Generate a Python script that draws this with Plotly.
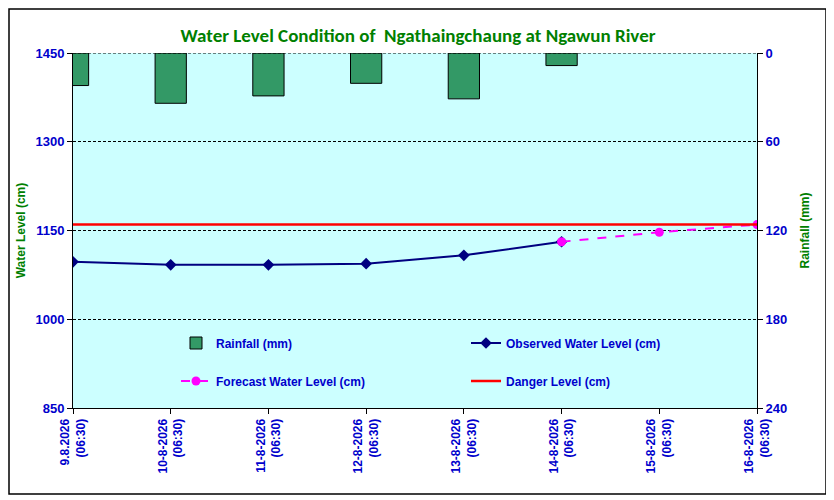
import plotly.graph_objects as go

categories = ["9.8.2026<br>(06:30)", "10-8-2026<br>(06:30)", "11-8-2026<br>(06:30)",
              "12-8-2026<br>(06:30)", "13-8-2026<br>(06:30)", "14-8-2026<br>(06:30)",
              "15-8-2026<br>(06:30)", "16-8-2026<br>(06:30)"]
rainfall_mm = [22, 34, 29, 20.5, 31, 8.5, None, None]
observed_cm = [1097, 1092, 1092, 1094, 1108, 1131]
forecast_idx = [5, 6, 7]
forecast_cm = [1131, 1147, 1160]
danger_cm = 1160
level_range = [850, 1450]

xpos = list(range(len(categories)))
BLUE = "#0000CC"
GREEN = "#008000"
TICKFONT = dict(family="Liberation Sans Narrow, Liberation Sans, Arial", size=13, color=BLUE, weight="bold")
LEGFONT = dict(family="Liberation Sans, Arial", size=12, color=BLUE, weight="bold")

fig = go.Figure()
fig.add_trace(go.Bar(x=xpos, y=rainfall_mm, yaxis="y2", width=0.32, name="Rainfall (mm)",
                     marker=dict(color="#339966", line=dict(color="black", width=1)),
                     legend="legend"))
fig.add_trace(go.Scatter(x=xpos[:len(observed_cm)], y=observed_cm, mode="lines+markers",
                         name="Observed Water Level (cm)",
                         line=dict(color="#000080", width=2),
                         marker=dict(symbol="diamond", size=9, color="#000080"),
                         legend="legend2"))
fig.add_trace(go.Scatter(x=forecast_idx, y=forecast_cm, mode="lines+markers",
                         name="Forecast Water Level (cm)",
                         line=dict(color="#FF00FF", width=2, dash="dash"),
                         marker=dict(symbol="circle", size=9, color="#FF00FF"),
                         legend="legend3"))
fig.add_trace(go.Scatter(x=[xpos[0], xpos[-1]], y=[danger_cm, danger_cm], mode="lines",
                         name="Danger Level (cm)",
                         line=dict(color="#FF0000", width=2.5),
                         legend="legend4"))

# page pixel targets; page is offset by 8px body margin
OFF = 8
FW, FH = 820, 488
L, R, T, B = 73 - OFF, 757 - OFF, 53 - OFF, 408 - OFF
W, H = R - L, B - T
def px(xp): return (xp - OFF - L) / W
def py(yp): return (B - (yp - OFF)) / H

leg = dict(bgcolor="rgba(0,0,0,0)", font=LEGFONT, xanchor="left", yanchor="middle")
fig.update_layout(
    width=FW, height=FH,
    margin=dict(l=L, r=FW - R, t=T, b=FH - B, autoexpand=False),
    paper_bgcolor="white", plot_bgcolor="#CCFFFF",
    title=dict(text="Water Level Condition of  Ngathaingchaung at Ngawun River",
               x=0.5, xanchor="center", y=1 - (35 - OFF) / FH, yanchor="middle", automargin=False,
               font=dict(family="Carlito, Liberation Sans Narrow, Arial", size=19, color=GREEN, weight="bold")),
    showlegend=True,
    legend=dict(x=px(176), y=py(343), **leg),
    legend2=dict(x=px(466), y=py(343), **leg),
    legend3=dict(x=px(176), y=py(381), **leg),
    legend4=dict(x=px(466), y=py(381), **leg),
    xaxis=dict(range=[0, 7], tickvals=xpos, ticktext=categories, tickangle=-90, automargin=False,
               tickfont=dict(family="Liberation Sans, Arial", size=12, color=BLUE, weight="bold"),
               showline=True, linecolor="black", linewidth=1, ticks="outside", ticklen=5,
               tickcolor="black", showgrid=False, zeroline=False, fixedrange=True),
    yaxis=dict(range=level_range, tick0=850, dtick=150, tickfont=TICKFONT, automargin=False,
               showline=True, linecolor="black", linewidth=1, ticks="outside", ticklen=5,
               tickcolor="black", showgrid=True, gridcolor="black", griddash="3px,2px", gridwidth=1,
               zeroline=False,
               title=dict(text="Water Level (cm)", standoff=7,
                          font=dict(family="Liberation Sans, Arial", size=12, color=GREEN, weight="bold"))),
    yaxis2=dict(range=[240, 0], tick0=0, dtick=60, overlaying="y", side="right", tickfont=TICKFONT,
                automargin=False,
                showline=True, linecolor="black", linewidth=1, ticks="outside", ticklen=5,
                tickcolor="black", showgrid=False, zeroline=False,
                title=dict(text="Rainfall (mm)", standoff=14,
                           font=dict(family="Liberation Sans, Arial", size=12, color=GREEN, weight="bold"))),
    shapes=[dict(type="rect", xref="paper", yref="paper",
                 x0=px(OFF + 1), x1=px(826), y0=py(494), y1=py(OFF + 1),
                 line=dict(color="black", width=1.5), fillcolor="rgba(0,0,0,0)", layer="below"),
            dict(type="line", xref="paper", yref="y", x0=0, x1=1,
                 y0=level_range[1], y1=level_range[1],
                 line=dict(color="black", width=1, dash="3px,2px"), layer="above")],
    hovermode=False,
)
fig.write_html("out.html")
